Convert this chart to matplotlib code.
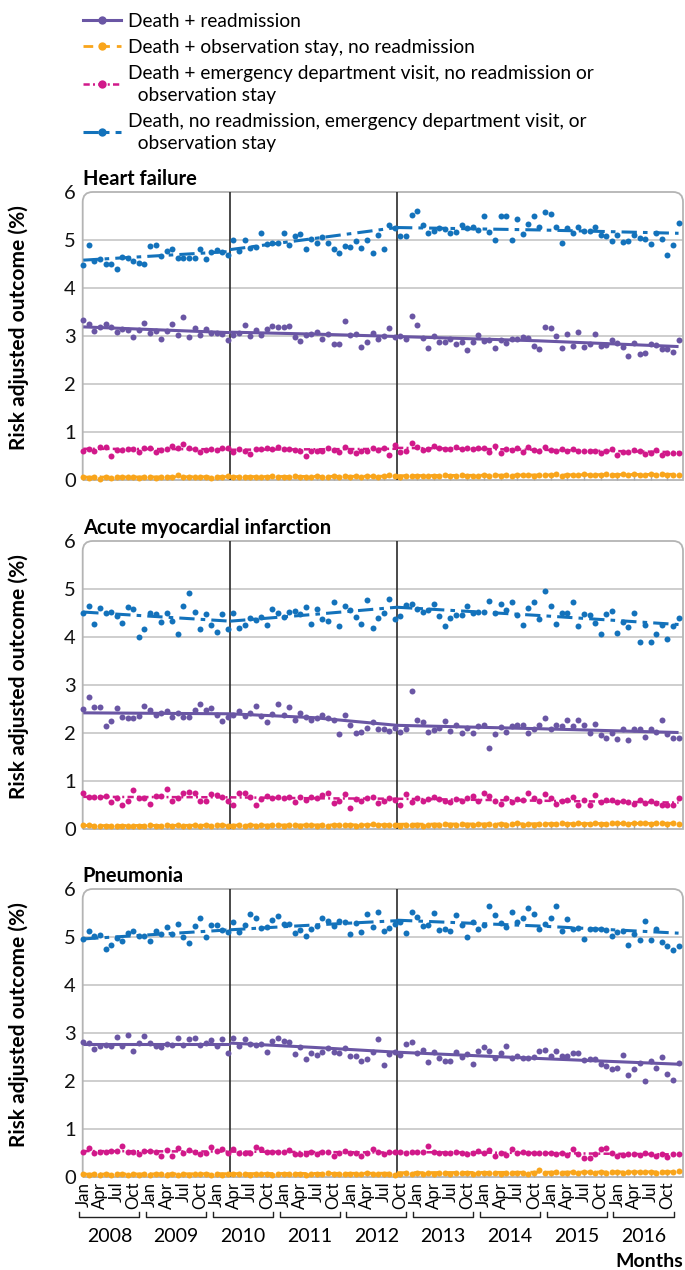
import numpy as np
import matplotlib.pyplot as plt
import matplotlib.transforms as mtransforms
from matplotlib.lines import Line2D
from matplotlib.path import Path
from matplotlib.patches import PathPatch

plt.rcParams['font.family'] = ['Lato', 'DejaVu Sans']

# ---- data (monthly, Jan 2008 - Dec 2016) ----
years = [str(y) for y in range(2008, 2017)]
tick_names = ['Jan', 'Apr', 'Jul', 'Oct']
policy_breaks = [26.4, 56.4]          # ACA passage, HRRP penalties
trend_knots = [[0, 26.4], [26.4, 41.4, 56.4], [56.4, 81.7, 107]]

labels = [
    "Death + readmission",
    "Death + observation stay, no readmission",
    "Death + emergency department visit, no readmission or\n  observation stay",
    "Death, no readmission, emergency department visit, or\n  observation stay",
]

hf_readmit = [3.33, 3.26, 3.11, 3.18, 3.25, 3.19, 3.08, 3.15, 3.13, 2.97, 3.13, 3.28,
              3.07, 3.10, 2.93, 3.10, 3.26, 3.03, 3.40, 2.97, 3.16, 3.03, 3.14, 3.07,
              3.07, 3.04, 2.92, 3.03, 3.07, 3.22, 2.99, 3.13, 3.02, 3.15, 3.20, 3.19,
              3.19, 3.20, 2.97, 2.90, 3.03, 3.04, 3.08, 2.93, 3.04, 2.83, 2.83, 3.32,
              3.02, 3.04, 2.77, 2.88, 3.07, 2.94, 2.99, 3.17, 2.97, 3.00, 2.93, 3.42,
              3.22, 2.96, 2.76, 3.00, 2.87, 2.87, 2.93, 2.83, 2.88, 2.70, 2.87, 3.02,
              2.90, 2.92, 2.76, 2.92, 2.86, 2.94, 2.93, 2.97, 2.95, 2.80, 2.73, 3.19,
              3.17, 3.01, 2.74, 3.04, 2.79, 3.09, 2.78, 2.83, 3.05, 2.80, 2.81, 2.91,
              2.86, 2.78, 2.58, 2.85, 2.63, 2.65, 2.84, 2.81, 2.72, 2.72, 2.67, 2.92]
hf_obs = [0.06, 0.05, 0.06, 0.03, 0.06, 0.05, 0.07, 0.06, 0.07, 0.06, 0.05, 0.06,
          0.06, 0.05, 0.06, 0.07, 0.06, 0.10, 0.06, 0.06, 0.07, 0.06, 0.07, 0.05,
          0.06, 0.06, 0.08, 0.06, 0.07, 0.06, 0.07, 0.07, 0.06, 0.07, 0.08, 0.07,
          0.07, 0.06, 0.08, 0.07, 0.06, 0.07, 0.08, 0.07, 0.07, 0.09, 0.07, 0.08,
          0.07, 0.08, 0.07, 0.09, 0.08, 0.07, 0.08, 0.10, 0.08, 0.07, 0.08, 0.08,
          0.08, 0.09, 0.08, 0.09, 0.08, 0.10, 0.09, 0.08, 0.10, 0.09, 0.08, 0.09,
          0.10, 0.09, 0.11, 0.09, 0.10, 0.09, 0.10, 0.11, 0.10, 0.09, 0.10, 0.11,
          0.10, 0.12, 0.09, 0.10, 0.11, 0.10, 0.12, 0.11, 0.10, 0.11, 0.12, 0.10,
          0.11, 0.12, 0.11, 0.13, 0.11, 0.10, 0.12, 0.11, 0.12, 0.11, 0.10, 0.11]
hf_ed = [0.61, 0.65, 0.60, 0.69, 0.69, 0.51, 0.63, 0.63, 0.65, 0.65, 0.59, 0.67,
         0.67, 0.59, 0.62, 0.65, 0.71, 0.67, 0.75, 0.66, 0.64, 0.58, 0.63, 0.65,
         0.63, 0.67, 0.67, 0.58, 0.64, 0.60, 0.55, 0.64, 0.65, 0.66, 0.65, 0.69,
         0.65, 0.64, 0.63, 0.60, 0.51, 0.60, 0.60, 0.60, 0.67, 0.63, 0.59, 0.68,
         0.60, 0.56, 0.60, 0.61, 0.67, 0.63, 0.67, 0.53, 0.72, 0.58, 0.60, 0.78,
         0.68, 0.63, 0.64, 0.71, 0.67, 0.65, 0.65, 0.68, 0.65, 0.67, 0.64, 0.66,
         0.67, 0.59, 0.71, 0.57, 0.64, 0.63, 0.67, 0.58, 0.69, 0.62, 0.61, 0.69,
         0.63, 0.60, 0.65, 0.61, 0.64, 0.60, 0.60, 0.61, 0.61, 0.57, 0.60, 0.65,
         0.53, 0.59, 0.59, 0.62, 0.60, 0.54, 0.57, 0.62, 0.52, 0.57, 0.57, 0.57]
hf_death = [4.47, 4.90, 4.56, 4.61, 4.51, 4.51, 4.40, 4.65, 4.63, 4.56, 4.53, 4.51,
            4.87, 4.89, 4.67, 4.77, 4.81, 4.62, 4.63, 4.62, 4.62, 4.81, 4.61, 4.74,
            4.80, 4.76, 4.69, 5.01, 4.78, 5.01, 4.84, 4.85, 5.15, 4.91, 4.94, 4.94,
            5.15, 4.90, 5.09, 5.12, 4.81, 5.02, 4.94, 5.06, 4.94, 4.81, 4.72, 4.87,
            4.85, 4.97, 4.84, 4.99, 4.72, 5.11, 4.82, 5.31, 5.24, 5.09, 5.08, 5.53,
            5.61, 5.32, 5.15, 5.19, 5.26, 5.23, 5.15, 5.17, 5.31, 5.24, 5.27, 5.21,
            5.51, 5.17, 4.99, 5.49, 5.51, 5.00, 5.43, 5.12, 5.33, 5.51, 5.28, 5.58,
            5.54, 5.28, 4.94, 5.24, 5.15, 5.27, 5.19, 5.19, 5.28, 5.11, 5.08, 4.97,
            5.10, 4.95, 4.98, 5.10, 5.04, 5.03, 4.91, 5.14, 5.03, 4.68, 4.89, 5.36]
hf_trends = [
    [[3.19, 3.07], [3.08, 3.04, 2.99], [2.99, 2.90, 2.78]],
    [[0.06, 0.07], [0.07, 0.075, 0.08], [0.09, 0.105, 0.12]],
    [[0.65, 0.64], [0.63, 0.64, 0.65], [0.67, 0.63, 0.58]],
    [[4.58, 4.76], [4.80, 5.03, 5.26], [5.26, 5.21, 5.14]],
]

ami_readmit = [2.49, 2.74, 2.55, 2.55, 2.15, 2.26, 2.53, 2.33, 2.32, 2.31, 2.35, 2.56,
               2.47, 2.37, 2.41, 2.45, 2.33, 2.41, 2.34, 2.34, 2.47, 2.61, 2.47, 2.52,
               2.37, 2.26, 2.33, 2.37, 2.45, 2.35, 2.42, 2.56, 2.35, 2.23, 2.40, 2.61,
               2.38, 2.54, 2.27, 2.41, 2.33, 2.27, 2.31, 2.38, 2.31, 2.28, 1.97, 2.38,
               2.17, 2.01, 2.03, 2.10, 2.22, 2.08, 2.08, 2.05, 2.11, 2.02, 2.08, 2.87,
               2.27, 2.22, 2.03, 2.06, 2.10, 2.26, 2.04, 2.17, 2.01, 2.10, 2.00, 2.15,
               2.17, 1.69, 1.97, 2.12, 2.02, 2.15, 2.17, 2.16, 1.99, 2.09, 2.17, 2.31,
               2.08, 2.17, 2.15, 2.28, 2.15, 2.28, 2.17, 2.01, 2.18, 1.95, 1.89, 1.99,
               1.88, 2.08, 1.85, 2.09, 2.09, 1.92, 2.08, 2.03, 2.27, 1.98, 1.89, 1.90]
ami_obs = [0.08, 0.09, 0.07, 0.06, 0.07, 0.06, 0.07, 0.06, 0.07, 0.06, 0.07, 0.06,
           0.08, 0.07, 0.06, 0.09, 0.07, 0.08, 0.07, 0.07, 0.08, 0.07, 0.09, 0.07,
           0.09, 0.08, 0.07, 0.07, 0.08, 0.07, 0.08, 0.07, 0.08, 0.07, 0.08, 0.08,
           0.07, 0.08, 0.08, 0.07, 0.09, 0.08, 0.07, 0.08, 0.07, 0.09, 0.08, 0.08,
           0.08, 0.07, 0.09, 0.08, 0.11, 0.08, 0.08, 0.09, 0.08, 0.07, 0.09, 0.09,
           0.08, 0.07, 0.09, 0.09, 0.08, 0.10, 0.09, 0.08, 0.11, 0.09, 0.08, 0.10,
           0.09, 0.10, 0.09, 0.11, 0.09, 0.10, 0.12, 0.09, 0.10, 0.09, 0.11, 0.10,
           0.11, 0.10, 0.12, 0.10, 0.11, 0.12, 0.10, 0.11, 0.12, 0.10, 0.11, 0.12,
           0.13, 0.12, 0.11, 0.13, 0.12, 0.13, 0.11, 0.12, 0.13, 0.11, 0.12, 0.10]
ami_ed = [0.76, 0.67, 0.67, 0.67, 0.68, 0.56, 0.65, 0.51, 0.59, 0.81, 0.64, 0.64,
          0.53, 0.69, 0.69, 0.83, 0.59, 0.64, 0.76, 0.77, 0.76, 0.58, 0.58, 0.73,
          0.71, 0.67, 0.59, 0.51, 0.76, 0.75, 0.67, 0.49, 0.62, 0.68, 0.64, 0.66,
          0.64, 0.66, 0.57, 0.66, 0.60, 0.66, 0.64, 0.71, 0.76, 0.55, 0.59, 0.72,
          0.44, 0.63, 0.58, 0.64, 0.67, 0.55, 0.58, 0.64, 0.60, 0.49, 0.73, 0.57,
          0.65, 0.58, 0.62, 0.67, 0.63, 0.59, 0.57, 0.62, 0.59, 0.64, 0.69, 0.59,
          0.74, 0.69, 0.58, 0.53, 0.64, 0.56, 0.63, 0.60, 0.76, 0.64, 0.58, 0.72,
          0.64, 0.53, 0.58, 0.60, 0.67, 0.50, 0.60, 0.50, 0.70, 0.57, 0.60, 0.61,
          0.57, 0.58, 0.56, 0.52, 0.60, 0.55, 0.58, 0.55, 0.49, 0.50, 0.49, 0.64]
ami_death = [4.50, 4.64, 4.28, 4.60, 4.50, 4.52, 4.44, 4.29, 4.63, 4.58, 4.00, 4.17,
             4.49, 4.48, 4.32, 4.51, 4.33, 4.07, 4.65, 4.91, 4.52, 4.17, 4.47, 4.24,
             4.11, 4.48, 4.17, 4.50, 4.18, 4.26, 4.40, 4.35, 4.42, 4.26, 4.58, 4.51,
             4.42, 4.53, 4.55, 4.47, 4.63, 4.28, 4.58, 4.38, 4.33, 4.73, 4.22, 4.65,
             4.56, 4.42, 4.28, 4.78, 4.19, 4.40, 4.51, 4.79, 4.38, 4.43, 4.66, 4.69,
             4.58, 4.53, 4.57, 4.69, 4.44, 4.23, 4.40, 4.45, 4.45, 4.65, 4.51, 4.52,
             4.52, 4.74, 4.49, 4.69, 4.57, 4.72, 4.45, 4.24, 4.60, 4.73, 4.38, 4.95,
             4.65, 4.27, 4.51, 4.51, 4.72, 4.22, 4.47, 4.45, 4.29, 4.06, 4.47, 4.54,
             4.09, 4.32, 4.20, 4.49, 3.90, 4.25, 3.90, 4.07, 4.25, 3.95, 4.22, 4.40]
ami_trends = [
    [[2.42, 2.40], [2.40, 2.32, 2.16], [2.16, 2.09, 2.01]],
    [[0.07, 0.08], [0.08, 0.085, 0.09], [0.10, 0.11, 0.12]],
    [[0.67, 0.66], [0.66, 0.64, 0.63], [0.63, 0.59, 0.55]],
    [[4.52, 4.33], [4.33, 4.47, 4.62], [4.62, 4.45, 4.26]],
]

pn_readmit = [2.81, 2.80, 2.67, 2.72, 2.75, 2.72, 2.92, 2.72, 2.95, 2.62, 2.79, 2.94,
              2.80, 2.72, 2.70, 2.77, 2.74, 2.90, 2.75, 2.88, 2.90, 2.76, 2.79, 2.85,
              2.72, 2.88, 2.59, 2.90, 2.73, 2.88, 2.78, 2.76, 2.78, 2.60, 2.83, 2.90,
              2.83, 2.82, 2.57, 2.70, 2.46, 2.59, 2.55, 2.61, 2.69, 2.60, 2.58, 2.68,
              2.53, 2.52, 2.41, 2.46, 2.60, 2.88, 2.33, 2.57, 2.60, 2.55, 2.77, 2.82,
              2.59, 2.65, 2.39, 2.60, 2.48, 2.42, 2.42, 2.60, 2.50, 2.56, 2.35, 2.62,
              2.71, 2.62, 2.47, 2.58, 2.73, 2.48, 2.52, 2.48, 2.47, 2.50, 2.63, 2.65,
              2.53, 2.62, 2.53, 2.53, 2.59, 2.58, 2.44, 2.46, 2.46, 2.36, 2.32, 2.25,
              2.28, 2.55, 2.13, 2.25, 2.37, 1.99, 2.41, 2.28, 2.49, 2.14, 2.03, 2.37]
pn_obs = [0.06, 0.05, 0.06, 0.05, 0.06, 0.04, 0.06, 0.07, 0.05, 0.06, 0.05, 0.06,
          0.05, 0.06, 0.07, 0.05, 0.06, 0.05, 0.06, 0.05, 0.06, 0.07, 0.06, 0.05,
          0.06, 0.05, 0.07, 0.06, 0.06, 0.07, 0.05, 0.06, 0.07, 0.06, 0.05, 0.06,
          0.07, 0.06, 0.06, 0.07, 0.05, 0.06, 0.07, 0.06, 0.08, 0.06, 0.07, 0.06,
          0.07, 0.06, 0.07, 0.08, 0.06, 0.07, 0.07, 0.06, 0.05, 0.07, 0.08, 0.07,
          0.08, 0.07, 0.08, 0.07, 0.09, 0.08, 0.07, 0.08, 0.09, 0.08, 0.07, 0.08,
          0.08, 0.09, 0.08, 0.07, 0.09, 0.08, 0.09, 0.08, 0.07, 0.09, 0.14, 0.09,
          0.09, 0.10, 0.09, 0.08, 0.10, 0.09, 0.10, 0.11, 0.09, 0.10, 0.09, 0.10,
          0.10, 0.09, 0.11, 0.10, 0.10, 0.11, 0.10, 0.09, 0.11, 0.10, 0.11, 0.12]
pn_ed = [0.53, 0.61, 0.51, 0.53, 0.53, 0.55, 0.55, 0.64, 0.53, 0.52, 0.48, 0.54,
         0.54, 0.53, 0.43, 0.57, 0.44, 0.61, 0.51, 0.56, 0.52, 0.48, 0.50, 0.63,
         0.54, 0.58, 0.49, 0.58, 0.51, 0.50, 0.51, 0.63, 0.58, 0.53, 0.53, 0.53,
         0.53, 0.56, 0.47, 0.47, 0.48, 0.52, 0.47, 0.52, 0.52, 0.44, 0.49, 0.54,
         0.51, 0.50, 0.44, 0.51, 0.58, 0.52, 0.47, 0.53, 0.53, 0.52, 0.51, 0.52,
         0.53, 0.52, 0.64, 0.52, 0.49, 0.50, 0.51, 0.53, 0.49, 0.47, 0.49, 0.55,
         0.51, 0.57, 0.43, 0.51, 0.46, 0.58, 0.51, 0.53, 0.51, 0.51, 0.51, 0.50,
         0.49, 0.47, 0.49, 0.46, 0.58, 0.48, 0.40, 0.40, 0.47, 0.58, 0.61, 0.51,
         0.44, 0.46, 0.47, 0.47, 0.45, 0.49, 0.48, 0.44, 0.48, 0.42, 0.48, 0.47]
pn_death = [4.95, 5.13, 5.03, 5.05, 4.74, 4.84, 4.98, 4.91, 5.08, 5.13, 5.03, 5.03,
            4.91, 5.12, 5.06, 5.20, 5.07, 5.27, 4.99, 4.88, 5.22, 5.40, 4.99, 5.24,
            5.24, 5.14, 5.11, 5.31, 5.10, 5.24, 5.47, 5.40, 5.19, 5.21, 5.35, 5.43,
            5.28, 5.28, 5.09, 5.15, 5.03, 5.17, 5.22, 5.39, 5.34, 5.22, 5.33, 5.31,
            5.06, 5.30, 5.10, 5.47, 5.21, 5.52, 5.13, 5.19, 5.28, 5.32, 5.08, 5.52,
            5.42, 5.22, 5.26, 5.49, 5.15, 5.17, 5.13, 5.45, 5.26, 5.00, 5.31, 5.17,
            5.25, 5.65, 5.46, 5.30, 5.20, 5.53, 5.32, 5.39, 5.60, 5.47, 5.17, 5.28,
            5.40, 5.65, 5.12, 5.37, 5.16, 5.19, 4.95, 5.17, 5.17, 5.17, 5.15, 5.03,
            5.11, 5.13, 4.84, 5.06, 4.94, 5.34, 4.94, 5.17, 4.89, 4.81, 4.73, 4.82]
pn_trends = [
    [[2.78, 2.78], [2.79, 2.70, 2.60], [2.60, 2.47, 2.35]],
    [[0.06, 0.07], [0.07, 0.075, 0.08], [0.09, 0.10, 0.11]],
    [[0.54, 0.53], [0.53, 0.52, 0.51], [0.52, 0.50, 0.47]],
    [[4.96, 5.15], [5.15, 5.25, 5.34], [5.35, 5.23, 5.08]],
]

panels = [
    ("Heart failure", [hf_readmit, hf_obs, hf_ed, hf_death], hf_trends),
    ("Acute myocardial infarction", [ami_readmit, ami_obs, ami_ed, ami_death], ami_trends),
    ("Pneumonia", [pn_readmit, pn_obs, pn_ed, pn_death], pn_trends),
]

# ---- styles ----
colors = ['#6a56a4', '#f9a51b', '#d1198a', '#1372bb']
styles = ['-', (0, (3.5, 2.5)), (0, (2.5, 1.3, 0.8, 1.3)), (0, (5, 2, 1.5, 2))]
widths = [2.2, 2.0, 1.8, 2.2]
draw_order = [1, 2, 0, 3]
grid_col = '#c6c6c6'

months = np.arange(len(hf_readmit))
fig = plt.figure(figsize=(6.85, 12.7), dpi=100)

left, width, height = 82.7 / 685, 600.3 / 685, 288 / 1270
bottoms = [1 - 480 / 1270, 1 - 829 / 1270, 1 - 1177 / 1270]

tick_pos = [12 * y + 3 * q for y in range(len(years)) for q in range(4)]
tick_lab = tick_names * len(years)

for p, (title, series, trends) in enumerate(panels):
    ax = fig.add_axes([left, bottoms[p], width, height])
    ax.set_xlim(-0.1, 107.8)
    ax.set_ylim(0, 6)
    for s in ax.spines.values():
        s.set_visible(False)

    # rounded frame
    rx, ry = 10 / 600.3, 10 / 288
    verts = [(0, 0), (0, 1 - ry), (0, 1), (rx, 1), (1 - rx, 1), (1, 1),
             (1, 1 - ry), (1, 0), (0, 0)]
    codes = [Path.MOVETO, Path.LINETO, Path.CURVE3, Path.CURVE3, Path.LINETO,
             Path.CURVE3, Path.CURVE3, Path.LINETO, Path.LINETO]
    ax.add_patch(PathPatch(Path(verts, codes), transform=ax.transAxes, fill=False,
                           ec='#b4b4b4', lw=1.3, clip_on=False, zorder=1))
    for yv in range(1, 6):
        ax.axhline(yv, color=grid_col, lw=1.2, zorder=0)
    for b in policy_breaks:
        ax.axvline(b, color='#2a2a2a', lw=1.2, zorder=2)

    for k in draw_order:
        for knots, vals in zip(trend_knots, trends[k]):
            ax.plot(knots, vals, color=colors[k], ls=styles[k], lw=widths[k],
                    zorder=3, solid_capstyle='butt')
        ax.plot(months, series[k], ls='none', marker='o', ms=4.3, mew=0,
                color=colors[k], zorder=4, clip_on=False)

    ax.set_yticks(range(7))
    ax.tick_params(axis='y', length=0, labelsize=14.5, pad=5, labelcolor='#111111')
    ax.set_xticks(tick_pos)
    ax.tick_params(axis='x', direction='in', length=3.5, width=1, color='#a8a8a8')
    if p == 2:
        ax.set_xticklabels(tick_lab, rotation=90, fontsize=12.2)
    else:
        ax.set_xticklabels([])

    ax.set_title(title, loc='left', fontsize=14.5, fontweight='bold', pad=5)
    ax.set_ylabel("Risk adjusted outcome (%)", fontsize=15, fontweight='bold')
    ax.yaxis.set_label_coords(-0.09, 0.53)

    if p == 2:
        trans = mtransforms.blended_transform_factory(ax.transData, ax.transAxes)
        yb = -0.139
        for i, yr in enumerate(years):
            x0, x1 = 12 * i - 0.7, 12 * i + 10.1
            ax.plot([x0, x0, x1, x1], [yb + 0.016, yb, yb, yb + 0.016],
                    transform=trans, clip_on=False, color='#222222', lw=1)
            ax.text((x0 + x1) / 2, -0.205, yr, transform=trans, ha='center',
                    va='center', fontsize=14)
        ax.text(1.0, -0.292, "Months", transform=ax.transAxes, ha='right',
                va='center', fontsize=14, fontweight='bold')

handles = [Line2D([], [], color=colors[k], ls=styles[k], lw=widths[k], marker='o',
                  ms=6, mew=0) for k in range(4)]
leg = fig.legend(handles, labels, loc='upper left', bbox_to_anchor=(0.121, 0.990),
                 frameon=False, fontsize=13.8, handlelength=2.0, handletextpad=0.35,
                 labelspacing=0.47, borderaxespad=0, borderpad=0)
for t in leg.get_texts():
    t.set_linespacing(1.35)

fig.savefig('out.png', dpi=100)
